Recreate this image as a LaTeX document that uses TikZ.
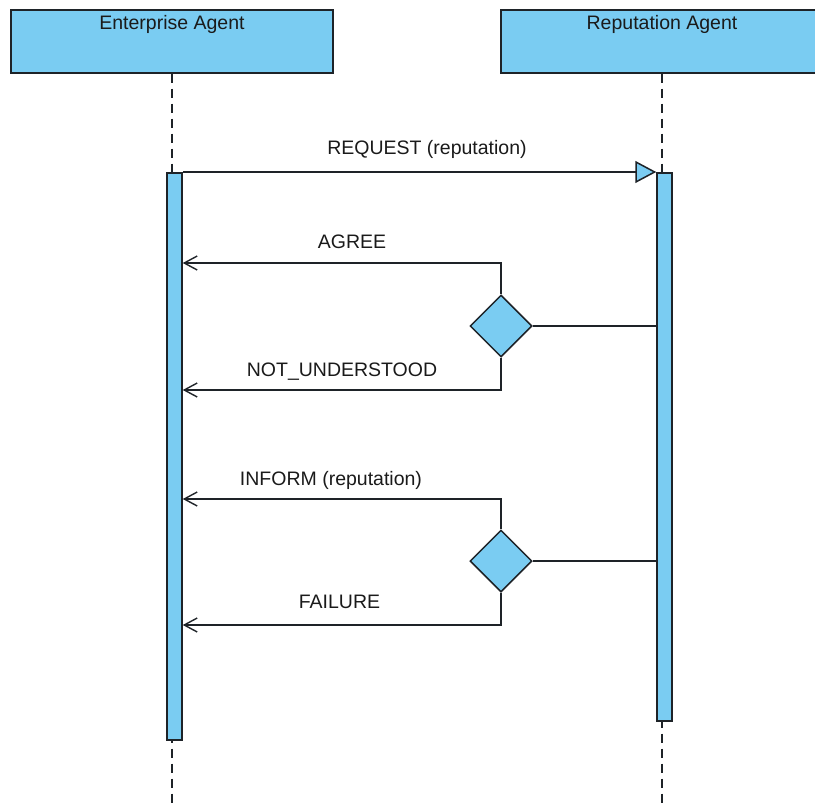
\documentclass[tikz,border=0pt]{standalone}
\usepackage{fontspec}
\setmainfont{Liberation Sans}
\usetikzlibrary{shapes.geometric,arrows.meta,calc}

\definecolor{umlblue}{HTML}{7ACCF2}
\definecolor{umlline}{HTML}{1E2328}
\definecolor{umltext}{HTML}{1A1A1A}

\tikzset{
  header/.style={draw=umlline, fill=umlblue, line width=1.5pt, rectangle,
    minimum width=322pt, minimum height=63pt, inner sep=0pt, anchor=north},
  lifeline/.style={draw=umlline, line width=1.4pt, dash pattern=on 9pt off 6pt},
  actbar/.style={draw=umlline, fill=umlblue, line width=1.5pt, rectangle,
    minimum width=15pt, inner sep=0pt, anchor=north},
  choice/.style={draw=umlline, fill=umlblue, line width=1.5pt, diamond,
    minimum width=62pt, minimum height=62pt, inner sep=0pt, aspect=1},
  msgtext/.style={font=\fontsize{19.5}{22}\selectfont, text=umltext,
    anchor=base, inner sep=0pt},
  request/.style={draw=umlline, line width=1.5pt,
    -{Triangle[length=21pt,width=22pt,fill=umlblue,line width=1.5pt]}},
  reply/.style={draw=umlline, line width=1.5pt,
    -{Straight Barb[length=13pt,width=14pt,line width=1.4pt]}},
  link/.style={draw=umlline, line width=1.5pt}
}

\begin{document}
\begin{tikzpicture}[x=1pt,y=-1pt]
  \useasboundingbox (0,0) rectangle (815,803);

  % lifeline heads
  \node[header] (hdrE) at (172,9) {};
  \node[header] (hdrR) at (662,9) {};
  \node[msgtext] (nameE) at (172,30) {Enterprise Agent};
  \node[msgtext] (nameR) at (662,30) {Reputation Agent};

  % dashed lifelines
  \coordinate (endE) at (172,803);
  \coordinate (endR) at (662,803);
  \draw[lifeline] (hdrE.south) -- (endE);
  \draw[lifeline] (hdrR.south) -- (endR);

  % activation bars
  \node[actbar, minimum height=567pt] (barE) at (174.5,172) {};
  \node[actbar, minimum height=548pt] (barR) at (664.5,172) {};

  % request message
  \draw[request] (barE.north east) -- (barR.north west);
  \node[msgtext] (reqlbl) at (427,154) {REQUEST (reputation)};

  % first decision: agree / not understood
  \node[choice] (d1) at (501,326) {};
  \coordinate (agreeY) at (0,263);
  \coordinate (notY) at (0,390);
  \draw[link] (barR.west |- d1.east) -- (d1.east);
  \draw[reply] (d1.north) |- (barE.east |- agreeY);
  \draw[reply] (d1.south) |- (barE.east |- notY);
  \node[msgtext] (agreelbl) at (352,248) {AGREE};
  \node[msgtext] (notlbl) at (342,376) {NOT\_UNDERSTOOD};

  % second decision: inform / failure
  \node[choice] (d2) at (501,561) {};
  \coordinate (informY) at (0,499);
  \coordinate (failY) at (0,625);
  \draw[link] (barR.west |- d2.east) -- (d2.east);
  \draw[reply] (d2.north) |- (barE.east |- informY);
  \draw[reply] (d2.south) |- (barE.east |- failY);
  \node[msgtext] (informlbl) at (331,485) {INFORM (reputation)};
  \node[msgtext] (faillbl) at (339.5,608) {FAILURE};
\end{tikzpicture}
\end{document}
